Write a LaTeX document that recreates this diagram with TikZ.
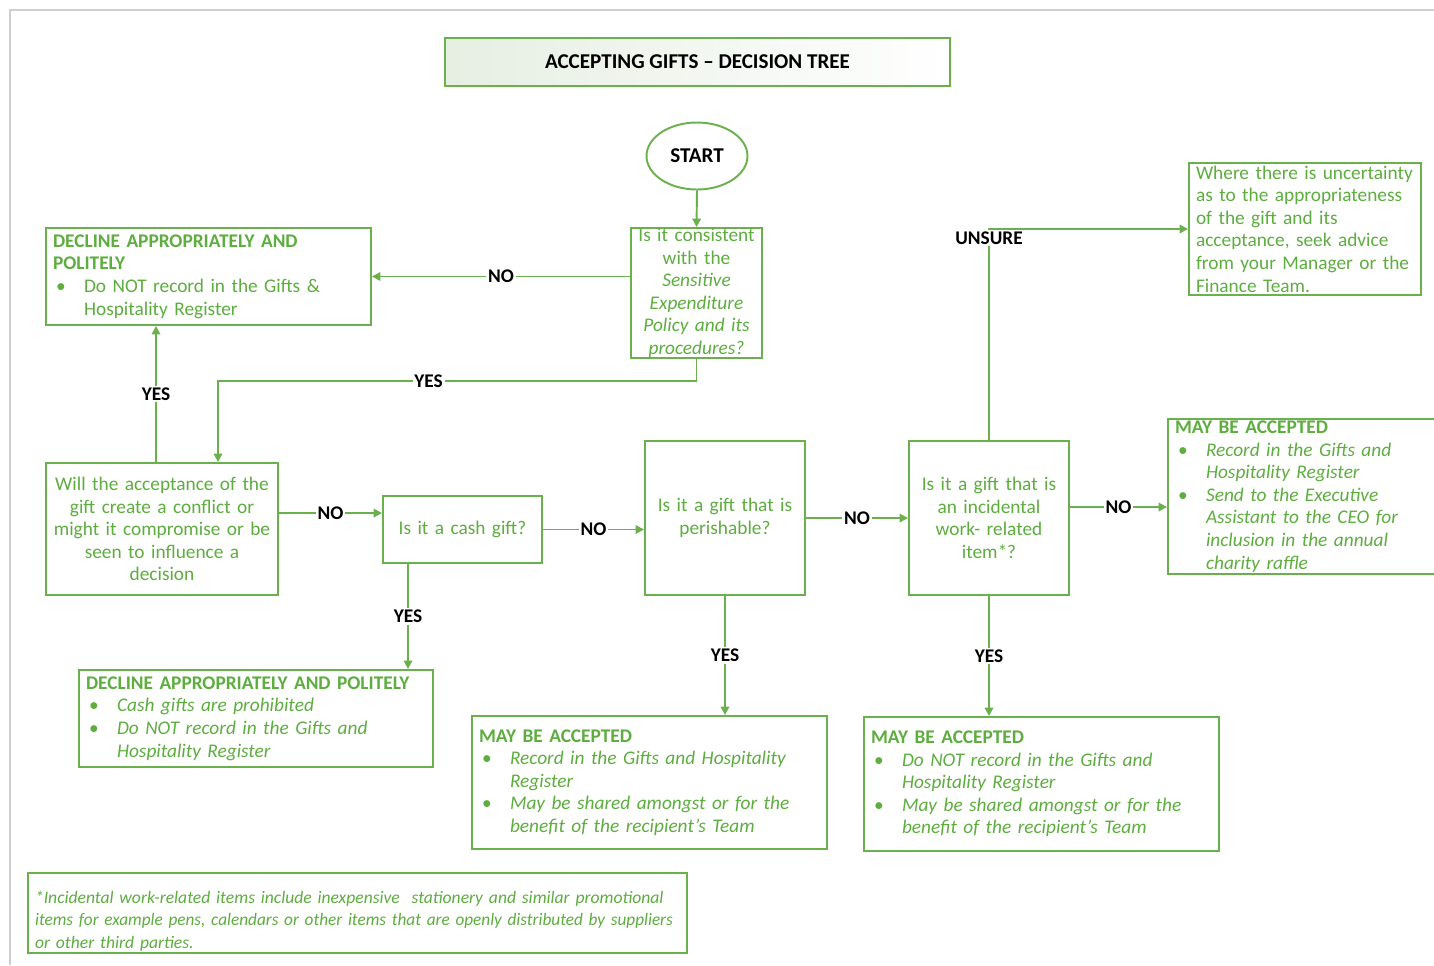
\documentclass[tikz,border=0pt]{standalone}
\usepackage{fontspec}
\setmainfont{Carlito}
\usepackage{tikz}
\usetikzlibrary{positioning,arrows.meta,shapes.geometric,calc}
\definecolor{giftline}{HTML}{6AB04C}
\definecolor{gifttext}{HTML}{5DAE3F}
\definecolor{giftfade}{HTML}{E6EFE2}
\definecolor{framec}{HTML}{CFCFCF}
\tikzset{
  box/.style={draw=giftline, line width=1.1pt, text=gifttext, inner xsep=0.14cm, inner ysep=0pt,
              align=left, fill=white, font=\fontsize{11}{12.86}\selectfont},
  qbox/.style={box, align=center, inner xsep=0.08cm},
  arr/.style={-{Triangle[length=1.7mm,width=1.7mm]}, draw=giftline, line width=1.1pt},
  lbl/.style={font=\fontsize{11}{12.86}\selectfont\bfseries, text=black, fill=white, inner sep=1pt},
}
\newcommand{\gitem}[1]{\par\noindent\makebox[0.62cm][l]{\hspace{0.06cm}\textbullet}%
  \parbox[t]{\dimexpr\hsize-0.62cm\relax}{\raggedright#1\par\xdef\gitemdepth{\the\prevdepth}}%
  \par\prevdepth=\gitemdepth\relax}

\begin{document}
\begin{tikzpicture}[x=0.02cm, y=-0.02cm]
  \useasboundingbox (0,0) rectangle (1434,965);
  \clip (0,0) rectangle (1434,965);
  \draw[framec, line width=1.2pt] (10,965) -- (10,10) -- (1434,10);
  % heading and start
  \node[box, align=center, minimum width=10.1cm, minimum height=0.96cm, text=black,
        font=\fontsize{12}{14}\selectfont\bfseries, left color=giftfade, right color=white] (title) at (697.5,62) {ACCEPTING GIFTS -- DECISION TREE};
  \node[ellipse, draw=giftline, line width=1.1pt, minimum width=2.02cm, minimum height=1.34cm,
        font=\fontsize{12}{14}\selectfont\bfseries] (start) at (697,156) {START};
  % questions
  \node[qbox, text width=2.46cm, minimum height=2.6cm] (cons) at (696.5,293) {Is it consistent\\with the\\{\itshape Sensitive\\Expenditure\\Policy and its\\procedures?}};
  \node[qbox, text width=4.48cm, minimum height=2.64cm] (will) at (162,529) {Will the acceptance of the\\gift create a conflict or\\might it compromise or be\\seen to influence a\\decision};
  \node[qbox, text width=3.02cm, minimum height=1.34cm] (cash) at (462.5,529.5) {Is it a cash gift?};
  \node[qbox, text width=3.04cm, minimum height=3.08cm] (perish) at (725,518) {Is it a gift that is\\perishable?};
  \node[qbox, text width=3.04cm, minimum height=3.08cm] (incid) at (989,518) {Is it a gift that is\\an incidental\\work- related\\item*?};
  % outcomes
  \node[box, text width=6.22cm, minimum height=1.94cm] (decl1) at (208.5,276.5) {{\bfseries DECLINE APPROPRIATELY AND\\POLITELY}\gitem{Do NOT record in the Gifts \&\\Hospitality Register}};
  \node[box, text width=4.36cm, minimum height=2.64cm] (advice) at (1305,229) {Where there is uncertainty\\as to the appropriateness\\of the gift and its\\acceptance, seek advice\\from your Manager or the\\Finance Team.};
  \node[box, text width=6.80cm, minimum height=1.94cm] (decl2) at (256,718.5) {{\bfseries DECLINE APPROPRIATELY AND POLITELY}\gitem{\itshape Cash gifts are prohibited}\gitem{\itshape Do NOT record in the Gifts and\\Hospitality Register}};
  \node[box, text width=6.82cm, minimum height=2.66cm] (may1) at (649.5,782.5) {{\bfseries MAY BE ACCEPTED}\gitem{\itshape Record in the Gifts and Hospitality\\Register}\gitem{\itshape May be shared amongst or for the\\benefit of the recipient's Team}};
  \node[box, text width=6.82cm, minimum height=2.68cm] (may2) at (1041.5,784) {{\bfseries MAY BE ACCEPTED}\gitem{\itshape Do NOT record in the Gifts and\\Hospitality Register}\gitem{\itshape May be shared amongst or for the\\benefit of the recipient's Team}};
  \node[box, text width=5.16cm, minimum height=3.10cm] (mayR) at (1304,496.5) {{\bfseries MAY BE ACCEPTED}\gitem{\itshape Record in the Gifts and\\Hospitality Register}\gitem{\itshape Send to the Executive\\Assistant to the CEO for\\inclusion in the annual\\charity raffle}};
  \node[box, text width=12.9cm, minimum height=1.6cm, font=\fontsize{10}{12.8}\selectfont\itshape] (foot) at (357.5,913) {\rule{0pt}{16pt}*Incidental work-related items include inexpensive\ \ stationery and similar promotional\\\scalebox{0.98}[1]{items for example pens, calendars or other items that are openly distributed by suppliers}\\or other third parties.};
  % connectors
  \draw[arr] (start.south) -- (cons.north);
  \draw[arr] (cons.west |- decl1.east) -- node[lbl]{NO} (decl1.east);
  \draw[arr] (cons.south) -- ++(0,22) -| node[lbl, pos=0.28]{YES} ([xshift=1.12cm]will.north);
  \draw[arr] ([xshift=-0.12cm]will.north) -- node[lbl]{YES} ([xshift=-0.12cm]will.north |- decl1.south);
  \draw[arr] ([yshift=0.32cm]will.east) -- node[lbl]{NO} ([yshift=0.32cm]will.east -| cash.west);
  \draw[arr] (cash.east) -- node[lbl]{NO} (cash.east -| perish.west);
  \draw[arr] ([xshift=-1.09cm]cash.south) -- node[lbl]{YES} ([xshift=-1.09cm]cash.south |- decl2.north);
  \draw[arr] (perish.east) -- node[lbl]{NO} (incid.west);
  \draw[arr] (perish.south) -- node[lbl]{YES} (perish.south |- may1.north);
  \draw[arr] ([yshift=0.22cm]incid.east) -- node[lbl]{NO} ([yshift=0.22cm]incid.east -| mayR.west);
  \draw[arr] (incid.south) -- node[lbl]{YES} (incid.south |- may2.north);
  \draw[arr] (incid.north) |- node[lbl, yshift=-0.18cm]{UNSURE} (advice.west);
\end{tikzpicture}
\end{document}
